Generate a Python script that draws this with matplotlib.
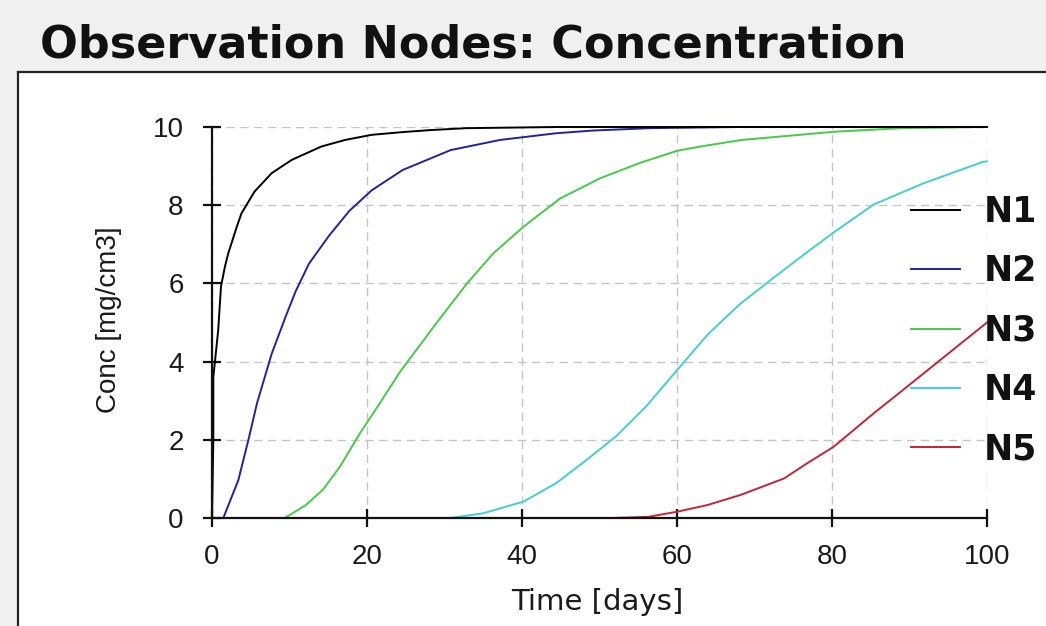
import matplotlib
matplotlib.use("Agg")
import matplotlib.pyplot as plt
from matplotlib.patches import Rectangle
from matplotlib.lines import Line2D

# Concentration histories at the observation nodes (time in days, conc in mg/cm3)
n1_t = [0.0, 0.17, 0.17, 0.8, 1.16, 1.67, 2.1, 3.2, 3.8, 5.1, 5.5, 7.7, 10.3, 14.1, 17.2, 20.6, 24.6, 28.1, 32.8, 44.4, 100.0]
n1_c = [0.0, 2.0, 3.6, 4.8, 5.92, 6.43, 6.77, 7.45, 7.79, 8.22, 8.35, 8.82, 9.16, 9.5, 9.67, 9.8, 9.87, 9.92, 9.97, 10.0, 10.0]

n2_t = [1.46, 3.4, 4.7, 5.8, 7.7, 9.5, 10.8, 12.5, 15.1, 17.7, 20.6, 24.6, 30.8, 37.2, 44.4, 49.2, 56.5, 67.7, 100.0]
n2_c = [0.0, 0.97, 2.0, 2.93, 4.2, 5.15, 5.8, 6.5, 7.22, 7.85, 8.38, 8.9, 9.41, 9.67, 9.84, 9.91, 9.97, 10.0, 10.0]

n3_t = [9.4, 12.1, 14.3, 16.5, 19.1, 21.7, 24.3, 28.6, 32.9, 36.3, 40.2, 44.9, 50.1, 55.2, 60.0, 63.0, 68.4, 80.4, 89.0, 100.0]
n3_c = [0.0, 0.33, 0.72, 1.31, 2.17, 2.95, 3.75, 4.89, 6.0, 6.77, 7.45, 8.17, 8.69, 9.08, 9.39, 9.5, 9.67, 9.88, 9.97, 10.0]

n4_t = [30.7, 35.0, 40.2, 44.4, 48.3, 52.2, 56.0, 60.0, 64.0, 68.0, 72.5, 76.8, 80.2, 85.4, 91.8, 99.5, 100.0]
n4_c = [0.0, 0.12, 0.42, 0.89, 1.48, 2.1, 2.85, 3.78, 4.7, 5.45, 6.15, 6.8, 7.3, 8.02, 8.56, 9.11, 9.12]

n5_t = [51.6, 56.3, 60.0, 63.9, 68.2, 73.8, 76.8, 80.2, 85.4, 89.7, 96.1, 100.0]
n5_c = [0.0, 0.03, 0.16, 0.33, 0.59, 1.01, 1.4, 1.82, 2.68, 3.36, 4.38, 5.0]

node_names = ["N1", "N2", "N3", "N4", "N5"]
node_colors = ["#000000", "#2222a0", "#44cc44", "#44cfcf", "#c42434"]

x_ticks = [0, 20, 40, 60, 80, 100]
y_ticks = [0, 2, 4, 6, 8, 10]

W, H = 1046, 626
fig = plt.figure(figsize=(W / 100, H / 100), dpi=100)
fig.patch.set_facecolor("#f0f0f0")

# white plotting panel with a dark top/left edge
panel_left = 18 / W
panel_top = (H - 72) / H
fig.patches.append(Rectangle((panel_left, -0.05), 1.1, panel_top + 0.05,
                             transform=fig.transFigure, facecolor="white",
                             edgecolor="none", zorder=-5))
fig.add_artist(Line2D([panel_left, 1.0], [panel_top, panel_top],
                      transform=fig.transFigure, color="#222222", lw=1.6, zorder=-4))
fig.add_artist(Line2D([panel_left, panel_left], [0.0, panel_top],
                      transform=fig.transFigure, color="#222222", lw=1.6, zorder=-4))

fig.text(40 / W, (H - 58) / H, "Observation Nodes: Concentration",
         family="DejaVu Sans", fontweight="bold", fontsize=32,
         ha="left", va="baseline", color="#111111")

ax = fig.add_axes([212 / W, (H - 518) / H, 775 / W, 391 / H])
ax.set_facecolor("white")

series = [(n2_t, n2_c), (n3_t, n3_c), (n4_t, n4_c), (n5_t, n5_c), (n1_t, n1_c)]
order = [1, 2, 3, 4, 0]
handles = [None] * 5
for (t, c), i in zip(series, order):
    ln, = ax.plot(t, c, color=node_colors[i], lw=1.4, clip_on=False,
                  zorder=3 if i else 4, label=node_names[i],
                  solid_joinstyle="round")
    handles[i] = ln

ax.set_xlim(0, 100)
ax.set_ylim(0, 10)
ax.set_xticks(x_ticks)
ax.set_yticks(y_ticks)
ax.grid(True, color="#c4c4c4", lw=1.0, linestyle=(0, (6, 4)))
ax.set_axisbelow(True)
for s in ("top", "right"):
    ax.spines[s].set_visible(False)
for s in ("left", "bottom"):
    ax.spines[s].set_linewidth(1.6)
    ax.spines[s].set_color("#111111")
    ax.spines[s].set_zorder(5)

ax.tick_params(axis="both", direction="inout", length=13, width=1.6,
               color="#111111", labelsize=20, labelcolor="#1a1a1a")
ax.tick_params(axis="y", pad=14)
ax.tick_params(axis="x", pad=12)
for lab in ax.get_xticklabels() + ax.get_yticklabels():
    lab.set_family("Liberation Sans")

ax.set_xlabel("Time [days]", family="DejaVu Sans", fontsize=21, color="#1a1a1a")
ax.set_ylabel("Conc [mg/cm3]", family="Liberation Sans", fontsize=20, color="#1a1a1a")
ax.xaxis.set_label_coords((597 - 212) / 775, -0.178)
ax.yaxis.set_label_coords(-0.116, 0.506)

leg = ax.legend(handles=handles, labels=node_names, loc="upper left",
                bbox_to_anchor=(911 / W, (H - 195) / H), bbox_transform=fig.transFigure,
                frameon=False, borderpad=0, borderaxespad=0,
                handlelength=1.4, handletextpad=0.7, labelspacing=0.73,
                prop={"family": "DejaVu Sans", "weight": "bold", "size": 25})
for t in leg.get_texts():
    t.set_color("#111111")

fig.savefig("out.png", dpi=100, facecolor=fig.get_facecolor())
